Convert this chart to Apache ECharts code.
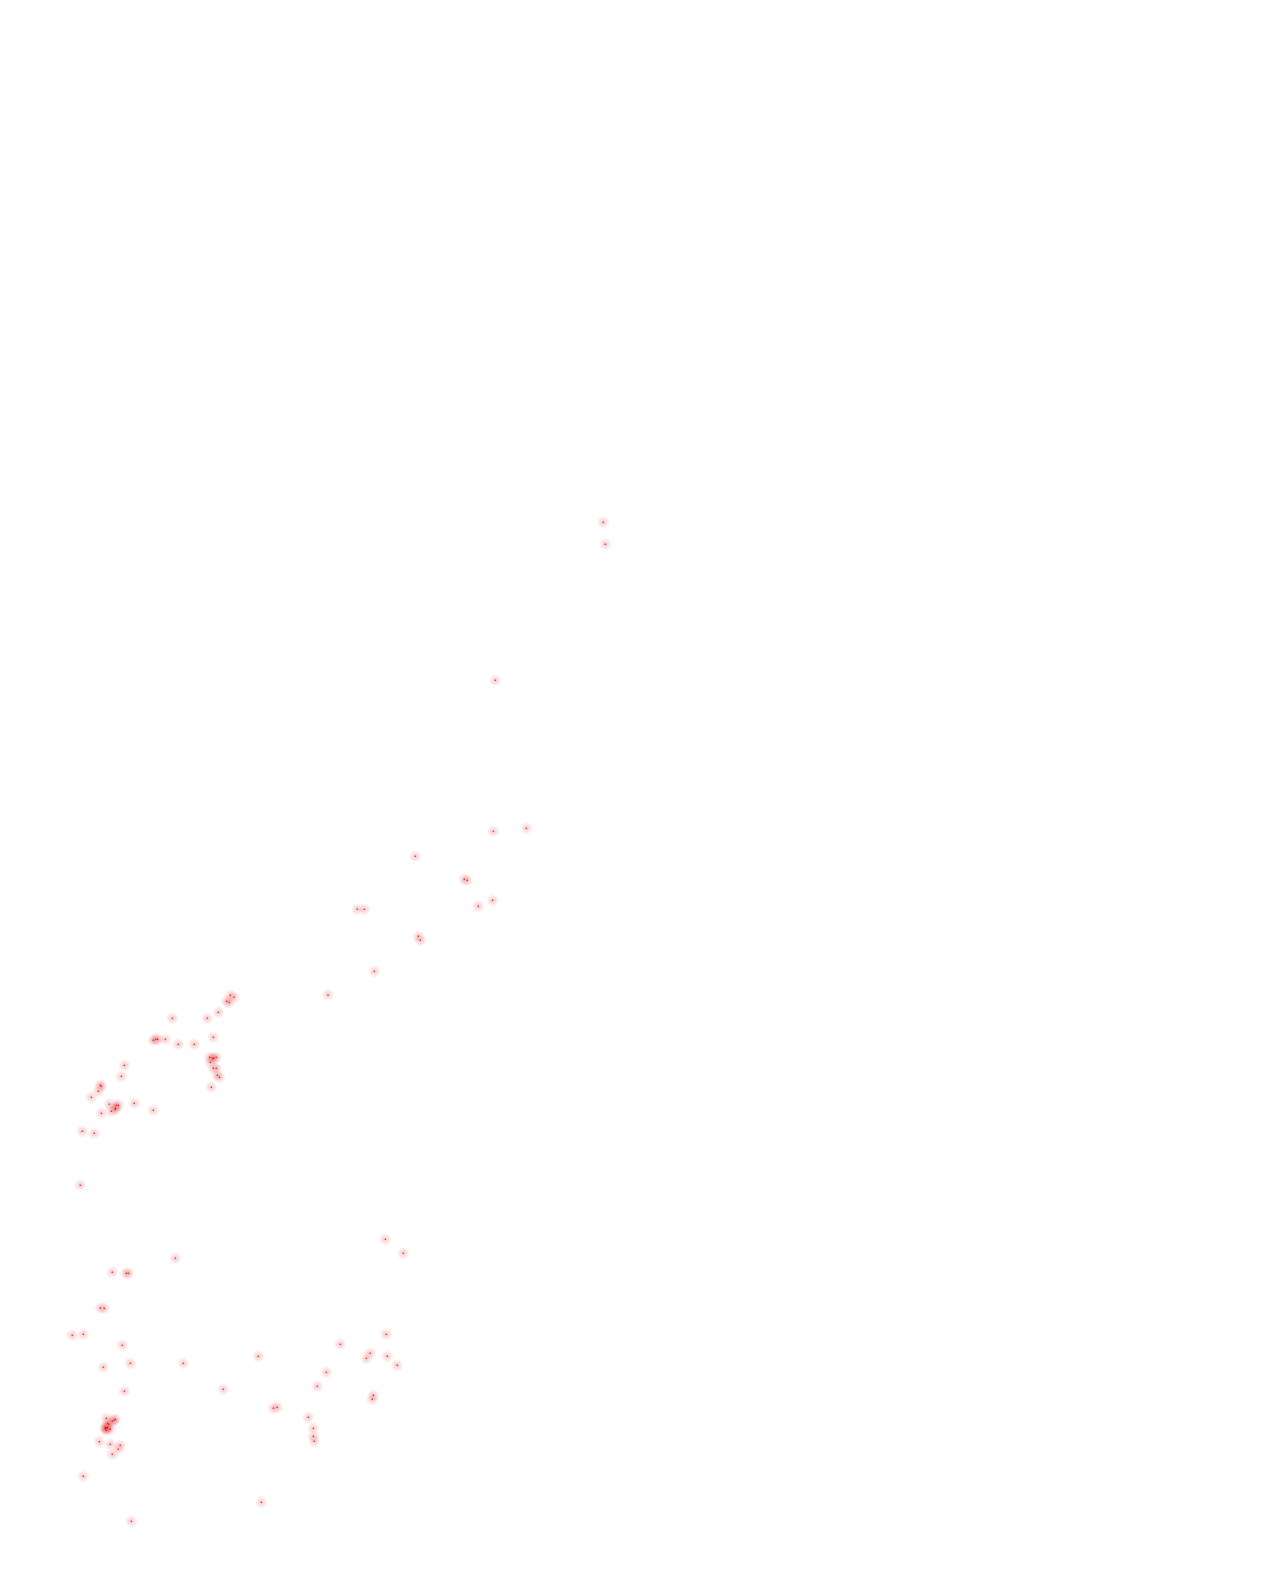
<!DOCTYPE html>
<html>
<head>
<meta charset="utf-8">
<script src="https://cdn.jsdelivr.net/npm/echarts@6/dist/echarts.min.js"></script>
<style>html,body{margin:0;padding:0;background:#fff;}#main{width:1277px;height:1580px;}</style>
</head>
<body>
<div id="main"></div>
<script>
var pointX = [603.3,605.3,495.3,
493.3,526.3,415.3,464.3,467.3,492.7,478.3,357.3,364.3,418.3,420.3,374.3,328,
230.3,234,226.7,229.3,218.3,207.3,172.3,153.3,155.7,157.7,165.3,178.3,194.3,213.3,
209.7,212.7,213.7,216.3,210.3,213.3,216.3,217.3,219.3,211.3,124.3,121.3,100.3,101.3,98.3,91.3,
109.3,116.3,118.3,115.3,115.3,111.3,101.3,134.3,153.3,82.3,94.3,80.3,
175.3,112.3,126.3,128.3,100.3,104.3,72.3,83.3,122.3,103.3,130.3,183.3,
124.3,106.3,107.7,108.7,112.3,114,115.3,105.3,106.3,107.3,105.3,106.3,110.3,99.3,110.3,120.3,118.3,112.3,83.3,131.3,
385.3,403.3,386.3,340.3,370.3,366.3,387.3,397.3,258.3,326.3,317.3,223.3,373.3,372.3,273.3,277.3,308.3,313.3,313.3,314.3,261.3];
var pointY = [522.3,544.3,680.3,
831.3,828.3,856.3,879.3,880.3,900.3,906.3,909.3,909.3,936.3,940.3,971.3,995,
995.3,997.3,1001.3,1002.3,1012.3,1018.3,1018.3,1040.3,1039.3,1039.3,1039.3,1044.3,1044.3,1037.3,
1057.3,1058.3,1058.3,1057.3,1062.3,1068.3,1068.3,1075.3,1077.3,1087.3,1065.3,1076.3,1085.3,1086.3,1091.3,1097.3,
1104.3,1105.3,1105.3,1108.3,1109.3,1111.3,1113.3,1103.3,1110.3,1131.3,1133.3,1185.3,
1258.3,1272.3,1273.3,1273.3,1308,1308.3,1335.3,1334.3,1345.3,1367.3,1363.3,1363.3,
1391.3,1418.3,1423.3,1424.3,1421.3,1420.3,1419.3,1427.7,1427.7,1427.7,1428.7,1430.3,1429.3,1441.7,1444.3,1445.3,1449.3,1454.3,1476.3,1521.3,
1239.3,1253.3,1334.3,1344.3,1353.3,1358.3,1356.3,1365.3,1356.3,1372.3,1386.3,1389.3,1395.3,1399.3,1408.3,1407.3,1417.3,1428.3,1436.3,1441.3,1502.3];

var data = pointX.map(function (x, i) { return [x, pointY[i]]; });
var chart = echarts.init(document.getElementById('main'), null, {renderer: 'canvas'});
var glow = new echarts.graphic.RadialGradient(0.5, 0.5, 0.5, [
  {offset: 0, color: 'rgba(220,40,40,0.32)'},
  {offset: 0.5, color: 'rgba(220,40,40,0.16)'},
  {offset: 1, color: 'rgba(220,40,40,0)'}
]);
chart.setOption({
  animation: false,
  backgroundColor: '#ffffff',
  grid: {left: 0, top: 0, width: 1277, height: 1580},
  xAxis: {type: 'value', min: 0, max: 1277, show: false, splitLine: {show: false}},
  yAxis: {type: 'value', min: 0, max: 1580, inverse: true, show: false, splitLine: {show: false}},
  series: [{
    type: 'scatter',
    data: data,
    symbolSize: 13,
    silent: true,
    itemStyle: {color: glow}
  }, {
    type: 'scatter',
    data: data,
    symbolSize: 1.6,
    itemStyle: {color: '#e00000'}
  }]
});
</script>
</body>
</html>
